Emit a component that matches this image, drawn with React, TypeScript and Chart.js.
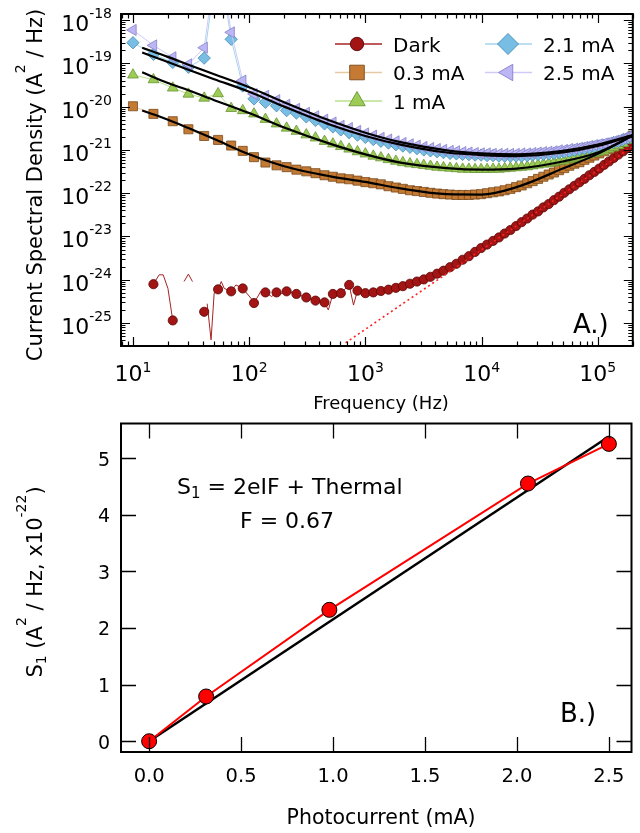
import React, { useEffect, useRef } from 'react';
import { Chart, registerables } from 'chart.js';

Chart.register(...registerables);

const FONT = '"DejaVu Sans", "Liberation Sans", sans-serif';

// ---------------- Panel A data ----------------
const freqHz = [10, 15, 22, 30, 41, 54, 70, 88, 110, 138, 172, 210, 255, 310, 372, 445, 525, 615, 725, 855, 1000,
  1170, 1360, 1580, 1830, 2100, 2420, 2780, 3180, 3630, 4140,
  4700, 5350, 6070, 6870, 7770, 8780, 9900, 11150, 12550, 14100,
  15800, 17700, 19800, 22100, 24700, 27500, 30600, 34000, 37800, 41900,
  46400, 51400, 56900, 62900, 69500, 76700, 84600, 93300, 102800, 113200,
  124600, 137100, 150700, 165600, 181900, 199700];

const darkPSD = [null, 7.9e-25, 1.15e-25, null, 1.82e-25, 6.0e-25, 5.4e-25, 6.3e-25, 2.9e-25, 5.1e-25, 5.1e-25, 5.4e-25, 4.7e-25, 3.9e-25, 3.3e-25, 3.0e-25, 4.7e-25, 4.9e-25, 7.6e-25, 5.6e-25, 4.9e-25,
  5.1e-25, 5.5e-25, 5.9e-25, 6.5e-25, 7.1e-25, 8.1e-25, 9.1e-25, 1.02e-24, 1.17e-24, 1.38e-24,
  1.62e-24, 1.95e-24, 2.34e-24, 2.9e-24, 3.5e-24, 4.4e-24, 5.4e-24, 6.5e-24, 7.9e-24, 9.5e-24,
  1.17e-23, 1.41e-23, 1.74e-23, 2.14e-23, 2.6e-23, 3.2e-23, 3.8e-23, 4.7e-23, 5.6e-23, 6.9e-23,
  8.3e-23, 1.02e-22, 1.23e-22, 1.48e-22, 1.78e-22, 2.14e-22, 2.6e-22, 3.1e-22, 3.7e-22, 4.5e-22,
  5.4e-22, 6.5e-22, 7.8e-22, 9.3e-22, 1.12e-21, 1.35e-21];

const psd03mA = [1.02e-20, 6.8e-21, 4.6e-21, 3.0e-21, 2.1e-21, 1.7e-21, 1.26e-21, 9.5e-22, 6.8e-22, 5.1e-22, 4.4e-22, 4.0e-22, 3.5e-22, 3.2e-22, 2.9e-22, 2.6e-22, 2.4e-22, 2.2e-22, 2.1e-22, 1.95e-22, 1.8e-22,
  1.7e-22, 1.6e-22, 1.45e-22, 1.35e-22, 1.26e-22, 1.17e-22, 1.12e-22, 1.07e-22, 1.02e-22, 9.8e-23,
  9.5e-23, 9.3e-23, 9.1e-23, 9.1e-23, 9.1e-23, 9.3e-23, 9.5e-23, 1.0e-22, 1.05e-22, 1.1e-22,
  1.17e-22, 1.26e-22, 1.38e-22, 1.51e-22, 1.7e-22, 1.9e-22, 2.14e-22, 2.4e-22, 2.7e-22, 3.0e-22,
  3.4e-22, 3.8e-22, 4.3e-22, 4.8e-22, 5.2e-22, 5.9e-22, 6.6e-22, 7.4e-22, 8.3e-22, 9.3e-22,
  1.05e-21, 1.17e-21, 1.35e-21, 1.55e-21, 1.82e-21, 2.14e-21];

const psd1mA = [5.4e-20, 4.2e-20, 2.7e-20, 1.95e-20, 1.58e-20, 2.0e-20, 9.1e-21, 8.1e-21, 6.8e-21, 5.1e-21, 4.0e-21, 3.2e-21, 2.7e-21, 2.24e-21, 1.9e-21, 1.58e-21, 1.38e-21, 1.2e-21, 1.05e-21, 9.1e-22, 8.1e-22,
  7.2e-22, 6.6e-22, 6.0e-22, 5.5e-22, 5.1e-22, 4.8e-22, 4.6e-22, 4.4e-22, 4.2e-22, 4.0e-22,
  3.9e-22, 3.8e-22, 3.7e-22, 3.6e-22, 3.6e-22, 3.55e-22, 3.55e-22, 3.55e-22, 3.6e-22, 3.6e-22,
  3.7e-22, 3.8e-22, 3.9e-22, 4.0e-22, 4.1e-22, 4.3e-22, 4.5e-22, 4.7e-22, 4.9e-22, 5.1e-22,
  5.4e-22, 5.6e-22, 6.0e-22, 6.3e-22, 6.8e-22, 7.2e-22, 7.8e-22, 8.3e-22, 8.9e-22, 9.5e-22,
  1.05e-21, 1.15e-21, 1.26e-21, 1.41e-21, 1.66e-21, 2.1e-21];

const psd21mA = [3.0e-19, 1.62e-19, 1.05e-19, 8.1e-20, 1.32e-19, 3e-17, 3.6e-19, 3.0e-20, 1.51e-20, 1.26e-20, 1.05e-20, 8.1e-21, 7.1e-21, 5.8e-21, 4.8e-21, 4.0e-21, 3.4e-21, 2.9e-21, 2.5e-21, 2.2e-21, 1.95e-21,
  1.74e-21, 1.58e-21, 1.45e-21, 1.32e-21, 1.23e-21, 1.15e-21, 1.07e-21, 1.0e-21, 9.5e-22, 9.1e-22,
  8.7e-22, 8.3e-22, 8.1e-22, 7.9e-22, 7.8e-22, 7.6e-22, 7.6e-22, 7.4e-22, 7.4e-22, 7.2e-22,
  7.2e-22, 7.2e-22, 7.2e-22, 7.2e-22, 7.4e-22, 7.6e-22, 7.8e-22, 7.9e-22, 8.1e-22, 8.3e-22,
  8.7e-22, 8.9e-22, 9.3e-22, 9.8e-22, 1.02e-21, 1.07e-21, 1.12e-21, 1.17e-21, 1.23e-21, 1.29e-21,
  1.38e-21, 1.48e-21, 1.58e-21, 1.74e-21, 1.9e-21, 2.14e-21];

const psd25mA = [5.9e-19, 2.6e-19, 1.38e-19, 9.5e-20, 2.3e-19, 5e-17, 5.2e-19, 4.0e-20, 1.95e-20, 1.78e-20, 1.41e-20, 1.1e-20, 8.9e-21, 7.2e-21, 6.0e-21, 5.0e-21, 4.3e-21, 3.6e-21, 3.2e-21, 2.75e-21, 2.4e-21,
  2.14e-21, 1.9e-21, 1.74e-21, 1.58e-21, 1.45e-21, 1.35e-21, 1.26e-21, 1.17e-21, 1.1e-21, 1.05e-21,
  1.0e-21, 9.5e-22, 9.3e-22, 8.9e-22, 8.7e-22, 8.5e-22, 8.3e-22, 8.3e-22, 8.1e-22, 8.1e-22,
  8.1e-22, 8.1e-22, 8.1e-22, 8.3e-22, 8.3e-22, 8.5e-22, 8.7e-22, 8.9e-22, 9.1e-22, 9.3e-22,
  9.8e-22, 1.0e-21, 1.05e-21, 1.07e-21, 1.12e-21, 1.17e-21, 1.23e-21, 1.29e-21, 1.35e-21, 1.41e-21,
  1.48e-21, 1.58e-21, 1.7e-21, 1.82e-21, 2.0e-21, 2.2e-21];

// fine-resolution trace of the dark spectrum below 1 kHz (null = gap)
const darkTraceHz = [15, 16.8, 18.2, 20, 22, 25, 27.5, 30, 32.5, 36, 43.5, 47, 50, 54, 57.5, 61, 70, 77, 88, 104, 110, 126, 138, 156, 172, 190, 210, 255, 310, 372, 445, 480, 525, 615, 725, 790, 855, 1000];
const darkTracePSD = [7.9e-25, 1.3e-24, 1.3e-24, 6.3e-25, 1.15e-25, null, 9.1e-25, 1.35e-24, 9.1e-25, null, 2.8e-25, 4.1e-26, 5.0e-25, 6.0e-25, 9.1e-25, 6.3e-25, 5.4e-25, 7.6e-25, 6.3e-25, 3.7e-25, 2.9e-25, 5.4e-25, 5.1e-25, 4.1e-25, 5.1e-25, 4.8e-25, 5.4e-25, 4.7e-25, 3.9e-25, 3.3e-25, 3.0e-25, 2.0e-25, 4.7e-25, 4.9e-25, 7.6e-25, 2.6e-25, 5.6e-25, 4.9e-25];

// model fits (black curves)
const fitFreqHz = [12, 20, 30, 50, 100, 200, 500, 1000, 2000, 5000, 10000, 20000, 50000, 100000, 199000];
const fit03mA = [8.1e-21, 5.0e-21, 3.2e-21, 1.78e-21, 7.9e-22, 4.2e-22, 2.45e-22, 1.82e-22, 1.29e-22, 9.5e-23, 9.3e-23, 1.38e-22, 3.7e-22, 8.1e-22, 2.14e-21];
const fit1mA = [6.2e-20, 3.5e-20, 2.4e-20, 1.41e-20, 7.1e-21, 3.3e-21, 1.38e-21, 7.9e-22, 5.1e-22, 3.8e-22, 3.5e-22, 3.7e-22, 5.4e-22, 8.7e-22, 2.1e-21];
const fit21mA = [1.78e-19, 1.07e-19, 7.1e-20, 4.3e-20, 2.2e-20, 1.0e-20, 3.8e-21, 2.1e-21, 1.32e-21, 8.7e-22, 7.6e-22, 7.2e-22, 8.7e-22, 1.23e-21, 2.14e-21];
const fit25mA = [2.3e-19, 1.41e-19, 9.3e-20, 5.6e-20, 2.8e-20, 1.26e-20, 4.7e-21, 2.5e-21, 1.51e-21, 9.8e-22, 8.3e-22, 7.9e-22, 9.5e-22, 1.32e-21, 2.2e-21];

// thermal (f^2-like) asymptote, red dotted
const thermalHz = [676, 199000];
const thermalPSD = [3.5e-26, 1.2e-21];

const legendLabels = ['Dark', '0.3 mA', '1 mA', '2.1 mA', '2.5 mA'];
const xExponents = [1, 2, 3, 4, 5];
const yExponents = [-18, -19, -20, -21, -22, -23, -24, -25];

// ---------------- Panel B data ----------------
const photocurrentMA = [0, 0.31, 0.98, 2.06, 2.5];
const s1Values = [0.0, 0.79, 2.32, 4.55, 5.25];
const fitCurrentMA = [0, 2.5];
const fitS1 = [0, 5.38];
const bXTicks = [0, 0.5, 1.0, 1.5, 2.0, 2.5];
const bYTicks = [0, 1, 2, 3, 4, 5];

// ---------------- styles ----------------
const STY = {
  dark: { fill: '#a31414', edge: '#5a0808', line: '#a52424' },
  m03: { fill: '#c47a33', edge: '#7a4a1c', line: '#e8c9a5' },
  m1: { fill: '#9ccc55', edge: '#6a9433', line: '#b8e08a' },
  m21: { fill: '#78bde3', edge: '#4a8cb3', line: '#a5d4ec' },
  m25: { fill: '#bcb6f4', edge: '#8680cc', line: '#cfcaf8' },
};

type Seg = { t: string; size: number; dy?: number };

function segsWidth(ctx: CanvasRenderingContext2D, segs: Seg[]) {
  let w = 0;
  for (const s of segs) {
    ctx.font = `${s.size}px ${FONT}`;
    w += ctx.measureText(s.t).width;
  }
  return w;
}

function drawSegs(ctx: CanvasRenderingContext2D, segs: Seg[], x: number, y: number, align: 'left' | 'center' | 'right') {
  const w = segsWidth(ctx, segs);
  let cx = align === 'left' ? x : align === 'center' ? x - w / 2 : x - w;
  ctx.textAlign = 'left';
  ctx.textBaseline = 'alphabetic';
  for (const s of segs) {
    ctx.font = `${s.size}px ${FONT}`;
    ctx.fillText(s.t, cx, y + (s.dy || 0));
    cx += ctx.measureText(s.t).width;
  }
}

function drawMarker(ctx: CanvasRenderingContext2D, shape: string, x: number, y: number, r: number, fill: string, edge: string) {
  ctx.beginPath();
  if (shape === 'circle') ctx.arc(x, y, r, 0, Math.PI * 2);
  else if (shape === 'square') ctx.rect(x - r, y - r, 2 * r, 2 * r);
  else if (shape === 'triUp') {
    ctx.moveTo(x, y - r);
    ctx.lineTo(x + r * 0.866, y + r * 0.5);
    ctx.lineTo(x - r * 0.866, y + r * 0.5);
    ctx.closePath();
  } else if (shape === 'diamond') {
    ctx.moveTo(x, y - r);
    ctx.lineTo(x + r, y);
    ctx.lineTo(x, y + r);
    ctx.lineTo(x - r, y);
    ctx.closePath();
  } else if (shape === 'triLeft') {
    ctx.moveTo(x - r, y);
    ctx.lineTo(x + r * 0.5, y - r * 0.866);
    ctx.lineTo(x + r * 0.5, y + r * 0.866);
    ctx.closePath();
  }
  ctx.fillStyle = fill;
  ctx.fill();
  ctx.lineWidth = 0.9;
  ctx.strokeStyle = edge;
  ctx.stroke();
}

const pts = (xs: number[], ys: (number | null)[]) => xs.map((x, i) => ({ x, y: ys[i] }));

const panelAPlugin = {
  id: 'panelA',
  afterDraw(chart: any) {
    const { ctx, chartArea: a, scales } = chart;
    const xs = scales.x;
    const ys = scales.y;
    ctx.save();
    // ticks
    ctx.strokeStyle = '#000';
    ctx.lineWidth = 1.2;
    ctx.beginPath();
    for (let d = 0; d <= 6; d++) {
      for (let k = 1; k <= 9; k++) {
        const v = k * Math.pow(10, d);
        if (v < xs.min || v > xs.max) continue;
        const x = Math.round(xs.getPixelForValue(v)) + 0.5;
        const len = k === 1 ? 9 : 4.5;
        ctx.moveTo(x, a.bottom);
        ctx.lineTo(x, a.bottom - len);
        ctx.moveTo(x, a.top);
        ctx.lineTo(x, a.top + len);
      }
    }
    for (let d = -27; d <= -17; d++) {
      for (let k = 1; k <= 9; k++) {
        const v = k * Math.pow(10, d);
        if (v < ys.min || v > ys.max) continue;
        const y = Math.round(ys.getPixelForValue(v)) + 0.5;
        const len = k === 1 ? 9 : 4.5;
        ctx.moveTo(a.left, y);
        ctx.lineTo(a.left + len, y);
        ctx.moveTo(a.right, y);
        ctx.lineTo(a.right - len, y);
      }
    }
    ctx.stroke();
    ctx.lineWidth = 2;
    ctx.strokeRect(a.left, a.top, a.right - a.left, a.bottom - a.top);

    ctx.fillStyle = '#000';
    for (const e of xExponents) {
      const x = xs.getPixelForValue(Math.pow(10, e));
      drawSegs(ctx, [{ t: '10', size: 22 }, { t: String(e), size: 14, dy: -9 }], x, 381, 'center');
    }
    for (const e of yExponents) {
      const y = ys.getPixelForValue(Math.pow(10, e));
      drawSegs(ctx, [{ t: '10', size: 22 }, { t: String(e), size: 14, dy: -13 }], 112, y + 11, 'right');
    }
    drawSegs(ctx, [{ t: 'Frequency (Hz)', size: 18 }], 381, 409, 'center');
    ctx.save();
    ctx.translate(42, 185);
    ctx.rotate(-Math.PI / 2);
    drawSegs(ctx, [{ t: 'Current Spectral Density (A', size: 21 }, { t: '2', size: 14, dy: -17 }, { t: ' / Hz)', size: 21 }], 0, 0, 'center');
    ctx.restore();
    drawSegs(ctx, [{ t: 'A.)', size: 26 }], 573, 333, 'left');

    // legend
    const styles = [STY.dark, STY.m03, STY.m1, STY.m21, STY.m25];
    const shapes = ['circle', 'square', 'triUp', 'diamond', 'triLeft'];
    const sizes = [6.7, 7.3, 9.5, 10.5, 9.5];
    const cols = [{ l: 335, r: 382, m: 357, t: 393 }, { l: 485, r: 532, m: 508, t: 543 }];
    const rows = [44, 72.5, 101];
    legendLabels.forEach((lab, i) => {
      const c = cols[i < 3 ? 0 : 1];
      const y = rows[i < 3 ? i : i - 3];
      ctx.strokeStyle = styles[i].line;
      ctx.lineWidth = 1.5;
      ctx.beginPath();
      ctx.moveTo(c.l, y);
      ctx.lineTo(c.r, y);
      ctx.stroke();
      drawMarker(ctx, shapes[i], c.m, y, sizes[i], styles[i].fill, styles[i].edge);
      ctx.fillStyle = '#000';
      drawSegs(ctx, [{ t: lab, size: 20 }], c.t, y + 7.5, 'left');
    });
    ctx.restore();
  },
};

const panelBPlugin = {
  id: 'panelB',
  afterDraw(chart: any) {
    const { ctx, chartArea: a, scales } = chart;
    const xs = scales.x;
    const ys = scales.y;
    ctx.save();
    ctx.strokeStyle = '#000';
    ctx.lineWidth = 1.3;
    ctx.beginPath();
    for (const v of bXTicks) {
      const x = Math.round(xs.getPixelForValue(v)) + 0.5;
      ctx.moveTo(x, a.bottom);
      ctx.lineTo(x, a.bottom - 15);
      ctx.moveTo(x, a.top);
      ctx.lineTo(x, a.top + 15);
    }
    for (const v of bYTicks) {
      const y = Math.round(ys.getPixelForValue(v)) + 0.5;
      ctx.moveTo(a.left, y);
      ctx.lineTo(a.left + 15, y);
      ctx.moveTo(a.right, y);
      ctx.lineTo(a.right - 15, y);
    }
    ctx.stroke();
    ctx.lineWidth = 2;
    ctx.strokeRect(a.left, a.top, a.right - a.left, a.bottom - a.top);

    ctx.fillStyle = '#000';
    for (const v of bXTicks) {
      drawSegs(ctx, [{ t: v.toFixed(1), size: 19.5 }], xs.getPixelForValue(v), 367, 'center');
    }
    for (const v of bYTicks) {
      drawSegs(ctx, [{ t: String(v), size: 19 }], 110, ys.getPixelForValue(v) + 7.5, 'right');
    }
    drawSegs(ctx, [{ t: 'Photocurrent (mA)', size: 20.5 }], 381, 409, 'center');
    ctx.save();
    ctx.translate(42, 167);
    ctx.rotate(-Math.PI / 2);
    drawSegs(ctx, [
      { t: 'S', size: 21 }, { t: '1', size: 14, dy: 4 }, { t: ' (A', size: 21 }, { t: '2', size: 14, dy: -16 },
      { t: ' / Hz, x10', size: 21 }, { t: '-22', size: 14, dy: -16 }, { t: ')', size: 21 },
    ], 0, 0, 'center');
    ctx.restore();
    drawSegs(ctx, [{ t: 'S', size: 22 }, { t: '1', size: 15, dy: 4 }, { t: ' = 2eIF + Thermal', size: 22 }], 177, 79, 'left');
    drawSegs(ctx, [{ t: 'F = 0.67', size: 22 }], 240, 113, 'left');
    drawSegs(ctx, [{ t: 'B.)', size: 26 }], 560, 307, 'left');
    ctx.restore();
  },
};

function hiddenScale(extra: any, width?: number, height?: number) {
  return {
    ...extra,
    ticks: { display: false },
    grid: { display: false },
    border: { display: false },
    title: { display: false },
    afterFit: (s: any) => {
      if (width !== undefined) s.width = width;
      if (height !== undefined) s.height = height;
    },
  };
}

function configA(): any {
  const darkTrace = [
    ...pts(darkTraceHz, darkTracePSD),
    ...pts(freqHz, darkPSD).filter((p) => p.x > 1000),
  ];
  const series = [
    { key: 'm03', label: legendLabels[1], data: psd03mA, style: 'rect', r: 6.4, rot: 0, order: 18 },
    { key: 'm1', label: legendLabels[2], data: psd1mA, style: 'triangle', r: 6.2, rot: 0, order: 17 },
    { key: 'm21', label: legendLabels[3], data: psd21mA, style: 'rectRot', r: 6.2, rot: 0, order: 16 },
    { key: 'm25', label: legendLabels[4], data: psd25mA, style: 'triangle', r: 6.4, rot: -90, order: 15 },
  ];
  const fits = [fit03mA, fit1mA, fit21mA, fit25mA];
  return {
    type: 'scatter',
    data: {
      datasets: [
        { label: 'Dark trace', data: darkTrace, showLine: true, borderColor: STY.dark.line, borderWidth: 1, pointRadius: 0, order: 20 },
        {
          label: legendLabels[0], data: pts(freqHz, darkPSD), showLine: false, pointStyle: 'circle', pointRadius: 4.6,
          pointBackgroundColor: STY.dark.fill, pointBorderColor: STY.dark.edge, pointBorderWidth: 0.8, order: 19,
        },
        ...series.map((s) => ({
          label: s.label, data: pts(freqHz, s.data), showLine: true,
          borderColor: (STY as any)[s.key].line, borderWidth: 1,
          pointStyle: s.style, pointRadius: s.r, pointRotation: s.rot,
          pointBackgroundColor: (STY as any)[s.key].fill, pointBorderColor: (STY as any)[s.key].edge, pointBorderWidth: 0.8,
          order: s.order,
        })),
        ...fits.map((f, i) => ({
          label: 'fit ' + series[i].label, data: pts(fitFreqHz, f), showLine: true, borderColor: '#000', borderWidth: 2.2,
          pointRadius: 0, cubicInterpolationMode: 'monotone', order: 10 - i,
        })),
        {
          label: 'thermal', data: pts(thermalHz, thermalPSD), showLine: true, borderColor: '#ff2020', borderWidth: 1.6,
          borderDash: [2, 3], pointRadius: 0, order: 1,
        },
      ],
    },
    options: {
      responsive: false,
      animation: false,
      devicePixelRatio: 1,
      events: [],
      layout: { padding: { top: 14, right: 5, left: 0, bottom: 0 } },
      plugins: { legend: { display: false }, tooltip: { enabled: false } },
      scales: {
        x: hiddenScale({ type: 'logarithmic', min: 7.89, max: 2.0e5 }, undefined, 69),
        y: hiddenScale({ type: 'logarithmic', min: 2.95e-26, max: 1.38e-18 }, 121, undefined),
      },
    },
    plugins: [panelAPlugin],
  };
}

function configB(): any {
  return {
    type: 'scatter',
    data: {
      datasets: [
        {
          label: 'S1', data: pts(photocurrentMA, s1Values), showLine: true, borderColor: '#ff0000', borderWidth: 2,
          pointRadius: 7.5, pointBackgroundColor: '#ff0000', pointBorderColor: '#000', pointBorderWidth: 1, order: 1,
        },
        {
          label: 'fit', data: pts(fitCurrentMA, fitS1), showLine: true, borderColor: '#000', borderWidth: 2.5,
          pointRadius: 0, order: 2,
        },
      ],
    },
    options: {
      responsive: false,
      animation: false,
      devicePixelRatio: 1,
      events: [],
      layout: { padding: { top: 5, right: 5, left: 0, bottom: 0 } },
      plugins: { legend: { display: false }, tooltip: { enabled: false } },
      scales: {
        x: hiddenScale({ type: 'linear', min: -0.153, max: 2.623 }, undefined, 81),
        y: hiddenScale({ type: 'linear', min: -0.19, max: 5.61 }, 121, undefined),
      },
    },
    plugins: [panelBPlugin],
  };
}

export default function App() {
  const aRef = useRef<HTMLCanvasElement>(null);
  const bRef = useRef<HTMLCanvasElement>(null);
  useEffect(() => {
    const a = new Chart(aRef.current as HTMLCanvasElement, configA());
    const b = new Chart(bRef.current as HTMLCanvasElement, configB());
    return () => {
      a.destroy();
      b.destroy();
    };
  }, []);
  return (
    <div style={{ position: 'absolute', left: 0, top: 0, width: 640, height: 833, background: '#ffffff' }}>
      <canvas ref={aRef} width={640} height={415} style={{ position: 'absolute', left: 0, top: 0, width: 640, height: 415 }} />
      <canvas ref={bRef} width={640} height={418} style={{ position: 'absolute', left: 0, top: 415, width: 640, height: 418 }} />
    </div>
  );
}
